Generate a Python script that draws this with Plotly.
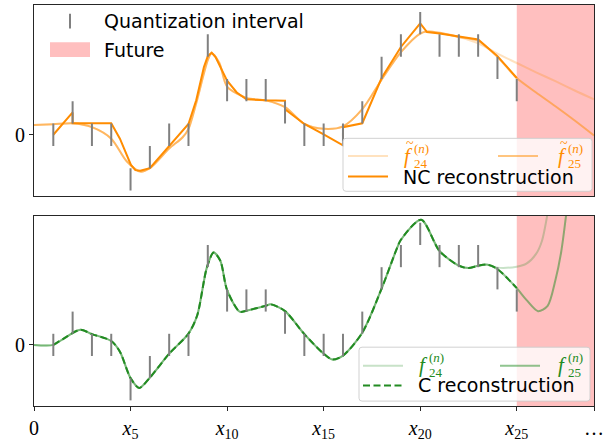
import plotly.graph_objects as go

# ---------------- data ----------------
x_samples = list(range(1, 26))
q_levels = [0, 1, 0, 0, -2, -1, 0, 0, 4, 2, 2, 2, 1, 0, 0, 0, 1, 3, 4, 5, 4, 4, 4, 3, 2]
q_step = 2.27

# top panel: smooth non-causal fits (shared past part)
top_past_x = [0, 1, 2, 3, 4, 4.8, 5.5, 6, 7, 7.7, 8, 8.4, 9, 9.2, 9.6, 10, 11, 12, 13, 14, 15, 16, 17, 18, 19, 20, 20.4, 21, 22]
top_past_y = [1.0, 1.07, 1.17, 0.77, -0.4, -2.7, -3.75, -3.4, -1.4, -0.25, 0.6, 3.2, 7.6, 8.3, 7.3, 4.9, 3.75, 3.5, 2.8, 1.1, 0.6, 0.85, 2.6, 5.6, 8.4, 10.3, 10.5, 10.37, 9.95]
top_f24_x = [23, 24, 25, 26, 27, 28, 29]
top_f24_y = [9.3, 8.25, 7.3, 6.35, 5.45, 4.5, 3.6]
top_f25_x = [23, 24, 25, 26, 27, 28, 29]
top_f25_y = [9.55, 7.9, 5.77, 4.3, 2.9, 1.45, -0.07]

# NC reconstruction (piecewise)
nc_x = [1, 2, 2, 4, 4.45, 4.8, 5.02, 5.25, 5.5, 6, 7, 8, 8.4, 8.8, 9.0, 9.2, 9.4, 9.7, 10, 10.5, 11, 12, 13, 13, 14, 15, 16, 16, 17, 18, 19, 20, 20.35, 21, 22, 23, 24, 25]
nc_y = [0, 2.27, 1.17, 1.17, -0.4, -2.07, -3.07, -3.6, -3.65, -3.4, -1.1, 1.1, 3.5, 6.9, 8.0, 8.35, 7.9, 6.7, 5.5, 4.3, 3.6, 3.5, 3.45, 2.6, 1.1, 0.05, -1.07, 0.77, 1.17, 5.77, 8.93, 11.33, 10.45, 10.3, 10.0, 9.7, 8.0, 5.77]

# bottom panel: causal fits
bot_past_x = [0, 1, 1.5, 2.4, 3, 4, 4.45, 5, 5.45, 6, 7, 8, 8.45, 8.95, 9.3, 9.65, 10, 10.65, 11, 12, 12.25, 13, 14, 15, 15.45, 16, 17, 18, 18.8, 19, 20.05, 21, 22, 22.5, 23, 23.5]
bot_past_y = [0, 0, 0.6, 1.55, 1.1, 0.4, -0.7, -3.4, -4.4, -3.35, -0.9, 1.15, 3.0, 7.9, 9.45, 8.6, 5.6, 3.4, 3.5, 4.0, 4.15, 3.45, 1.1, -0.9, -1.5, -1.1, 1.25, 5.75, 9.9, 10.75, 12.8, 9.6, 8.1, 7.85, 8.1, 8.2]
bot_f24_x = [24, 25, 25.5, 26, 26.3, 26.6]
bot_f24_y = [7.9, 8.0, 8.3, 9.3, 10.6, 13.5]
bot_f25_x = [24, 25, 25.5, 26.1, 26.6, 27.0, 27.3, 27.6]
bot_f25_y = [7.75, 5.8, 4.6, 3.45, 4.0, 6.6, 9.5, 14.0]
c_x = bot_past_x[1:] + [24, 25]
c_y = bot_past_y[1:] + [7.75, 5.8]

x_tickvals = [0, 5, 10, 15, 20, 25, 29]
x_ticktext = ["0", "<i>x</i><sub>5</sub>", "<i>x</i><sub>10</sub>", "<i>x</i><sub>15</sub>",
              "<i>x</i><sub>20</sub>", "<i>x</i><sub>25</sub>", "…"]
future_start, x_end = 25, 29
y_range = [-6.25, 13.2]

# ---------------- styles ----------------
ORANGE = "#FF8C00"
OR24 = "rgba(255,140,0,0.25)"
OR25 = "rgba(255,140,0,0.5)"
GREEN = "#228B22"
GR24 = "rgba(34,139,34,0.25)"
GR25 = "rgba(34,139,34,0.5)"
PINK = "rgba(255,0,0,0.25)"
SANS = "DejaVu Sans"
SERIF = "Liberation Serif"

fig = go.Figure()

bar_x, bar_y = [], []
for xi, k in zip(x_samples, q_levels):
    bar_x += [xi, xi, None]
    bar_y += [(k - 0.5) * q_step, (k + 0.5) * q_step, None]

def add_panel(xa, ya, curves, recon):
    for cx, cy, col, dash, shape in curves:
        fig.add_trace(go.Scatter(x=cx, y=cy, mode="lines", xaxis=xa, yaxis=ya,
                                 line=dict(color=col, width=2, dash=dash, shape=shape,
                                           smoothing=0.8 if shape == "spline" else None),
                                 showlegend=False, hoverinfo="skip"))
    rx, ry, col, dash, shape = recon
    fig.add_trace(go.Scatter(x=rx, y=ry, mode="lines", xaxis=xa, yaxis=ya,
                             line=dict(color=col, width=2, dash=dash, shape=shape,
                                       smoothing=0.8 if shape == "spline" else None),
                             showlegend=False, hoverinfo="skip"))
    fig.add_trace(go.Scatter(x=bar_x, y=bar_y, mode="lines", xaxis=xa, yaxis=ya,
                             line=dict(color="#808080", width=2),
                             showlegend=False, hoverinfo="skip"))

add_panel("x", "y",
          [(top_past_x + top_f24_x, top_past_y + top_f24_y, OR24, "solid", "spline"),
           (top_past_x + top_f25_x, top_past_y + top_f25_y, OR25, "solid", "spline")],
          (nc_x, nc_y, ORANGE, "solid", "linear"))
add_panel("x2", "y2",
          [(bot_past_x + bot_f24_x, bot_past_y + bot_f24_y, GR24, "solid", "spline"),
           (bot_past_x + bot_f25_x, bot_past_y + bot_f25_y, GR25, "solid", "spline")],
          (c_x, c_y, GREEN, "7px,3.5px", "spline"))

shapes = []
for xr, yr in (("x", "y domain"), ("x2", "y2 domain")):
    shapes.append(dict(type="rect", xref=xr, yref=yr, x0=future_start, x1=x_end, y0=0, y1=1,
                       fillcolor=PINK, line=dict(width=0), layer="below"))

# ------------- manual legends (pixel helpers) -------------
L, W, B, H = 34, 560, 413, 409
def px(v): return (v - L) / W
def py(v): return (B - v) / H

def rrect(x0, y0, x1, y1, r=3):
    a, b, c, d = px(x0), py(y0), px(x1), py(y1)
    rx, ry = r / W, r / H
    return (f"M{a+rx},{b} L{c-rx},{b} Q{c},{b} {c},{b-ry} L{c},{d+ry} Q{c},{d} {c-rx},{d} "
            f"L{a+rx},{d} Q{a},{d} {a},{d+ry} L{a},{b-ry} Q{a},{b} {a+rx},{b} Z")

def seg(x0, x1, y, col, dash="solid"):
    shapes.append(dict(type="line", xref="paper", yref="paper", x0=px(x0), x1=px(x1),
                       y0=py(y), y1=py(y), line=dict(color=col, width=2, dash=dash), layer="above"))

annotations = []
def txt(x, y, s, size=19, color="black", family=SANS, xanchor="left"):
    annotations.append(dict(xref="paper", yref="paper", x=px(x), y=py(y), text=s,
                            showarrow=False, xanchor=xanchor, yanchor="middle",
                            font=dict(family=family, size=size, color=color)))

def mathlabel(x, y, sub, color, tilde):
    txt(x, y, "<i>f</i>", size=21, color=color, family=SERIF)
    if tilde:
        txt(x + 2, y - 13, "~", size=14, color=color, family=SERIF)
    txt(x + 10, y - 7.5, "(<i>n</i>)", size=13, color=color, family=SERIF)
    txt(x + 10, y + 7.5, sub, size=13, color=color, family=SERIF)

# top-left legend (no frame)
shapes.append(dict(type="line", xref="paper", yref="paper", x0=px(70), x1=px(70),
                   y0=py(13), y1=py(28), line=dict(color="#808080", width=2), layer="above"))
txt(102, 20.5, "Quantization interval")
shapes.append(dict(type="rect", xref="paper", yref="paper", x0=px(50), x1=px(90),
                   y0=py(42), y1=py(57), fillcolor=PINK, line=dict(width=0), layer="above"))
txt(102, 49.5, "Future")

# top-right legend
shapes.append(dict(type="path", xref="paper", yref="paper", path=rrect(343, 140, 592, 194),
                   fillcolor="rgba(255,255,255,0.8)", line=dict(color="rgba(204,204,204,0.9)", width=1),
                   layer="above"))
seg(348, 388, 158, OR24)
seg(498, 538, 158, OR25)
seg(348, 388, 179, ORANGE)
mathlabel(402, 158, "24", ORANGE, True)
mathlabel(556, 158, "25", ORANGE, True)
txt(401, 179, "NC reconstruction")

# bottom-right legend
shapes.append(dict(type="path", xref="paper", yref="paper", path=rrect(359, 353, 590, 408),
                   fillcolor="rgba(255,255,255,0.8)", line=dict(color="rgba(204,204,204,0.9)", width=1),
                   layer="above"))
seg(363, 403, 372, GR24)
seg(500, 540, 372, GR25)
seg(363, 403, 392, GREEN, "7px,3.5px")
mathlabel(417, 371, "24", GREEN, False)
mathlabel(556, 371, "25", GREEN, False)
txt(416, 392, "C reconstruction")

axis_common = dict(showline=True, mirror=True, linecolor="#262626", linewidth=1,
                   showgrid=False, zeroline=False)
fig.update_layout(
    width=610, height=446,
    margin=dict(l=34, r=16, t=4, b=33),
    paper_bgcolor="white", plot_bgcolor="white",
    showlegend=False,
    shapes=shapes, annotations=annotations,
    xaxis=dict(domain=[0, 1], range=[0, x_end], anchor="y", matches="x2",
               showticklabels=False, ticks="", **axis_common),
    yaxis=dict(domain=[(413 - 199) / 409, 1], range=y_range, anchor="x",
               tickvals=[0], ticktext=["0"], ticks="outside", ticklen=4, tickcolor="#262626",
               tickfont=dict(family=SERIF, size=20, color="black"), **axis_common),
    xaxis2=dict(domain=[0, 1], range=[0, x_end], anchor="y2",
                tickvals=x_tickvals, ticktext=x_ticktext, ticks="outside", ticklen=4,
                tickcolor="#262626", tickfont=dict(family=SERIF, size=20, color="black"),
                **axis_common),
    yaxis2=dict(domain=[0, (413 - 219) / 409], range=y_range, anchor="x2",
                tickvals=[0], ticktext=["0"], ticks="outside", ticklen=4, tickcolor="#262626",
                tickfont=dict(family=SERIF, size=20, color="black"), **axis_common),
)

fig.write_html("out.html", config={"displayModeBar": False},
               post_script="document.body.style.margin='0';document.body.style.overflow='hidden';")
